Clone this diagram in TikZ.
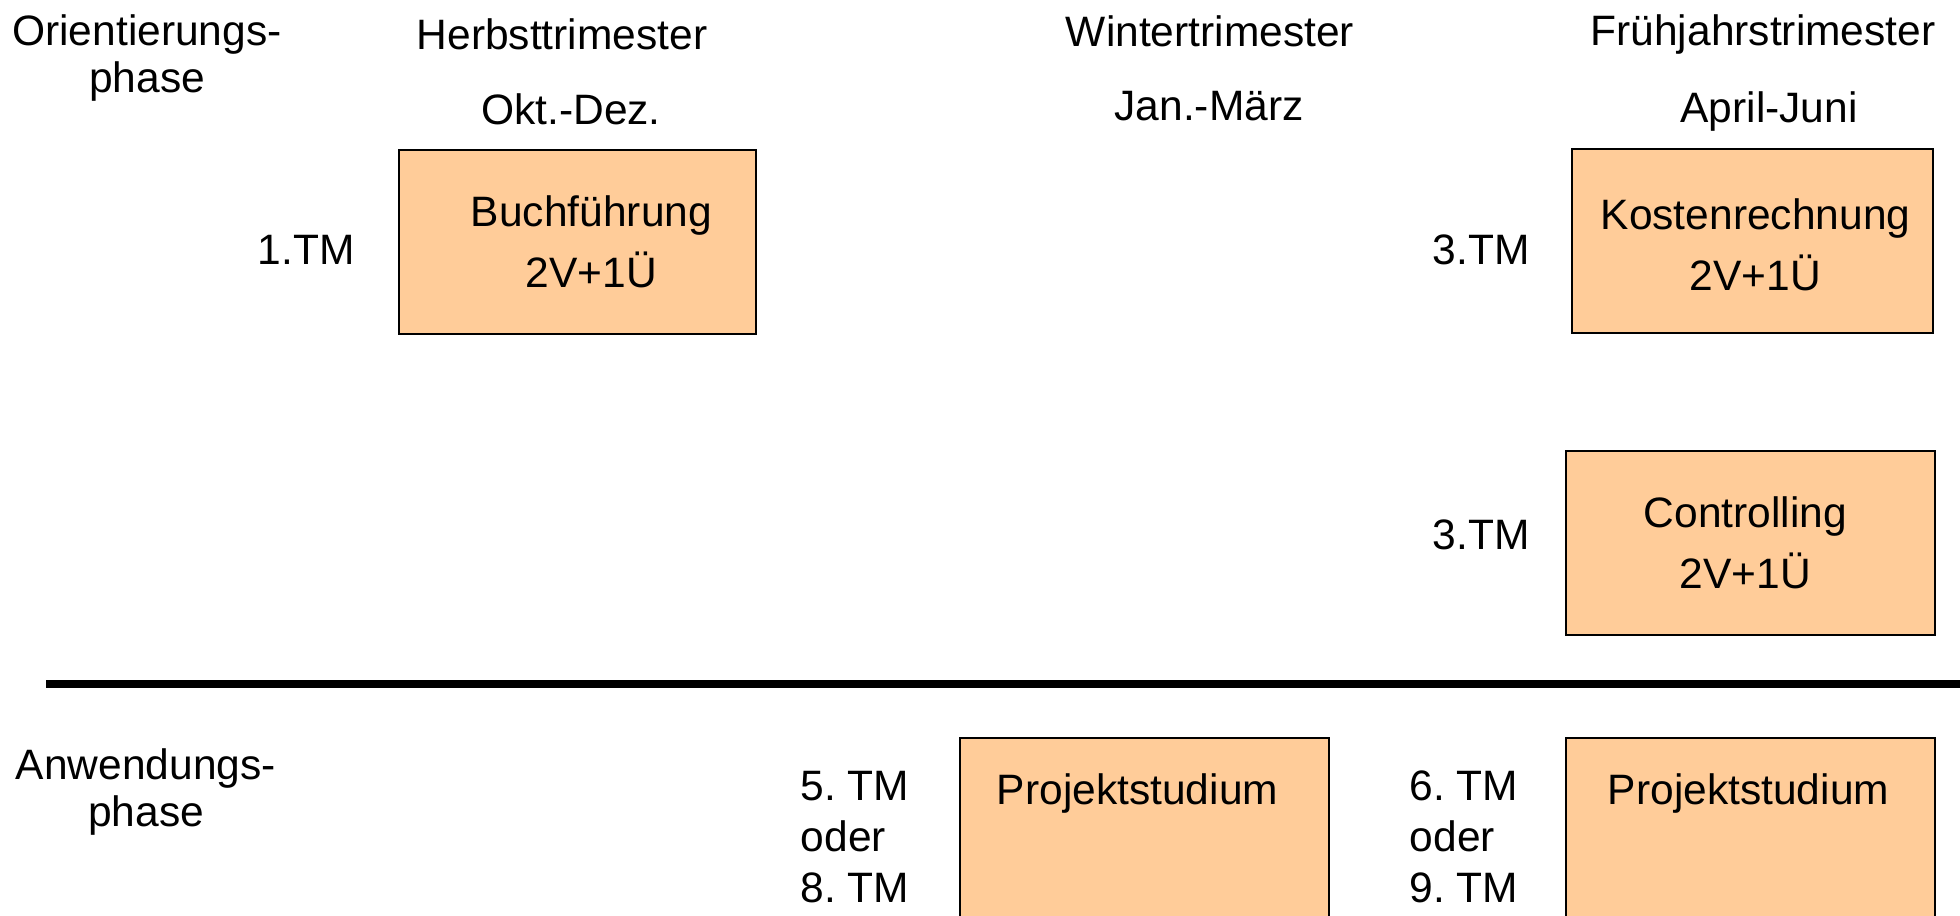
\documentclass[tikz,border=0pt]{standalone}
\usepackage{fontspec}
\setmainfont{Liberation Sans}
\usetikzlibrary{positioning}
\definecolor{fachfill}{HTML}{FFCC99}
\frenchspacing

\begin{document}
\begin{tikzpicture}[x=1cm,y=-1cm,
  every node/.style={inner sep=0pt,font=\fontsize{12.1}{13.4}\selectfont},
  fach/.style={draw,fill=fachfill,line width=0.6pt,rectangle,minimum height=1.84cm},
  fachtext/.style={align=center,font=\fontsize{12.1}{17.2}\selectfont},
  tmlist/.style={align=left,anchor=west,font=\fontsize{12.1}{14.6}\selectfont}]
% Page frame, boxes at the bottom run past it
\useasboundingbox (0,0) rectangle (19.6,9.16);
\clip (0,0) rectangle (19.6,9.16);
% Phase labels on the left
\node[align=center] (orient) at (1.47,0.58) {Orientierungs-\\phase};
\node[align=center] (anwend) at (1.46,7.92) {Anwendungs-\\phase};
% Column heads
\node (herbst) at (5.62,0.34) {Herbsttrimester};
\node (herbstm) at (5.71,1.09) {Okt.-Dez.};
\node (winter) at (12.10,0.31) {Wintertrimester};
\node (winterm) at (12.09,1.06) {Jan.-März};
\node (fruehj) at (17.63,0.35) {Frühjahrstrimester};
\node (fruehjm) at (17.69,1.12) {April-Juni};
% Courses of the orientation phase
\node[fach,minimum width=3.57cm] (buch) at (5.775,2.42) {};
\node[fachtext] (buchtxt) at ([xshift=0.14cm]buch.center) {Buchführung\\2V+1Ü};
\node (buchtm) at (3.06,2.50) {1.TM};
\node[fach,minimum width=3.61cm] (kosten) at (17.525,2.41) {};
\node[fachtext] (kostentxt) at ([xshift=0.03cm,yshift=-0.04cm]kosten.center) {Kostenrechnung\\2V+1Ü};
\node (kostentm) at (14.81,2.50) {3.TM};
\node[fach,minimum width=3.69cm] (contr) at (17.505,5.43) {};
\node[fachtext] (contrtxt) at ([xshift=-0.05cm]contr.center) {Controlling\\2V+1Ü};
\node (contrtm) at (14.81,5.35) {3.TM};
% Border between the two phases
\coordinate (sepl) at (0.46,6.84);
\coordinate (sepr) at (19.6,6.84);
\draw[line width=2pt] (sepl) -- (sepr);
% Project studies of the application phase
\node[fach,minimum width=3.69cm,minimum height=2.5cm,anchor=north] (proja) at (11.445,7.37) {};
\node (projatxt) at ([xshift=-0.07cm,yshift=-0.57cm]proja.north) {Projektstudium};
\node[tmlist] (projatm) at (8.00,8.37) {5. TM\\oder\\8. TM};
\node[fach,minimum width=3.69cm,minimum height=2.5cm,anchor=north] (projb) at (17.505,7.37) {};
\node (projbtxt) at ([xshift=-0.02cm,yshift=-0.57cm]projb.north) {Projektstudium};
\node[tmlist] (projbtm) at (14.09,8.37) {6. TM\\oder\\9. TM};
\end{tikzpicture}
\end{document}
